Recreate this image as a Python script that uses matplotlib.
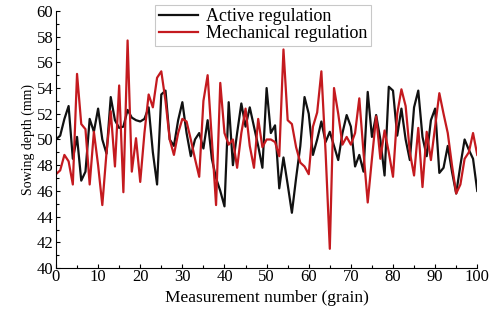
import numpy as np
from matplotlib import pyplot as plt
from matplotlib import rcParams
from matplotlib.ticker import MultipleLocator

rcParams['font.family'] = 'serif'
rcParams['font.serif'] = ['Liberation Serif', 'DejaVu Serif']
rcParams['xtick.direction'] = 'in'
rcParams['ytick.direction'] = 'in'

#%% values, one per grain (0..100)
grain = np.arange(0, 101)

active = [50.0, 50.3, 51.6, 52.6, 48.5, 50.2, 46.8, 47.5, 51.6, 50.6,
          52.4, 50.0, 48.9, 53.3, 51.5, 50.9, 51.0, 52.3, 51.7, 51.5,
          51.4, 51.6, 52.5, 49.0, 46.5, 53.5, 53.8, 50.0, 49.5, 51.5,
          52.9, 50.5, 48.7, 50.0, 50.5, 49.3, 51.5, 48.5, 47.0, 46.0,
          44.8, 52.9, 48.0, 50.5, 52.8, 51.0, 52.5, 51.0, 49.5, 47.8,
          54.0, 50.5, 51.1, 46.2, 48.6, 46.5, 44.3, 47.0, 49.5, 53.3,
          52.0, 48.8, 50.0, 51.4, 49.8, 50.6, 49.5, 48.4, 50.5, 51.9,
          51.0, 47.9, 48.8, 47.5, 53.7, 50.2, 51.9, 50.0, 47.2, 54.1,
          53.8, 50.3, 52.4, 50.0, 48.4, 52.5, 53.8, 50.2, 48.7, 51.5,
          52.4, 47.4, 47.8, 49.5, 47.5, 45.8, 48.0, 50.0, 49.2, 48.5,
          46.0]

mechanical = [47.3, 47.6, 48.8, 48.3, 46.5, 55.1, 51.2, 50.8, 46.5, 50.6,
              48.0, 44.9, 49.0, 52.2, 47.9, 54.2, 45.9, 57.7, 47.5, 50.1,
              46.7, 50.5, 53.5, 52.5, 54.8, 55.3, 53.0, 50.0, 48.8, 50.5,
              51.6, 51.4, 50.0, 48.5, 47.1, 53.0, 55.0, 50.0, 44.9, 54.4,
              50.5, 49.6, 50.0, 47.8, 50.5, 52.4, 49.5, 47.8, 51.6, 49.4,
              50.0, 50.0, 49.8, 48.7, 57.0, 51.5, 51.2, 49.4, 48.2, 47.9,
              47.3, 51.0, 52.1, 55.3, 49.0, 41.5, 54.0, 52.0, 49.6, 50.2,
              49.6, 50.5, 53.2, 49.0, 45.1, 48.5, 51.8, 48.5, 50.7, 49.0,
              47.1, 52.0, 53.9, 52.6, 49.0, 47.2, 50.9, 46.3, 50.6, 48.4,
              51.0, 53.6, 52.0, 50.5, 48.0, 45.8, 46.5, 48.5, 49.0, 50.5,
              48.8]

#%%
fig = plt.figure(figsize=(4.91, 3.11), dpi=100)
ax = fig.add_axes([0.114, 0.138, 0.858, 0.827])

ax.plot(grain, active, color='#111111', lw=1.6, label='Active regulation')
ax.plot(grain, mechanical, color='#c41a1f', lw=1.6, label='Mechanical regulation')

ax.set_xlim(0, 100)
ax.set_ylim(40, 60)
ax.xaxis.set_major_locator(MultipleLocator(10))
ax.xaxis.set_minor_locator(MultipleLocator(5))
ax.yaxis.set_major_locator(MultipleLocator(2))
ax.yaxis.set_minor_locator(MultipleLocator(1))
ax.tick_params(which='major', length=3, width=0.8, labelsize=12, pad=2)
ax.tick_params(which='minor', length=2, width=0.8)
ax.tick_params(axis='x', pad=1)

for s in ['top', 'right']:
    ax.spines[s].set_visible(False)

ax.set_xlabel('Measurement number (grain)', fontsize=12.5, labelpad=3)
ax.set_ylabel('Sowing depth (mm)', fontsize=10, labelpad=1)

leg = ax.legend(loc='upper left', bbox_to_anchor=(0.316, 0.985),
                bbox_transform=fig.transFigure, fontsize=13, frameon=True,
                fancybox=False, edgecolor='#bbbbbb', borderpad=0.2,
                labelspacing=0.0, handlelength=2.2, handletextpad=0.4,
                borderaxespad=0)
leg.get_frame().set_linewidth(0.8)

fig.savefig('out.png', dpi=100)
